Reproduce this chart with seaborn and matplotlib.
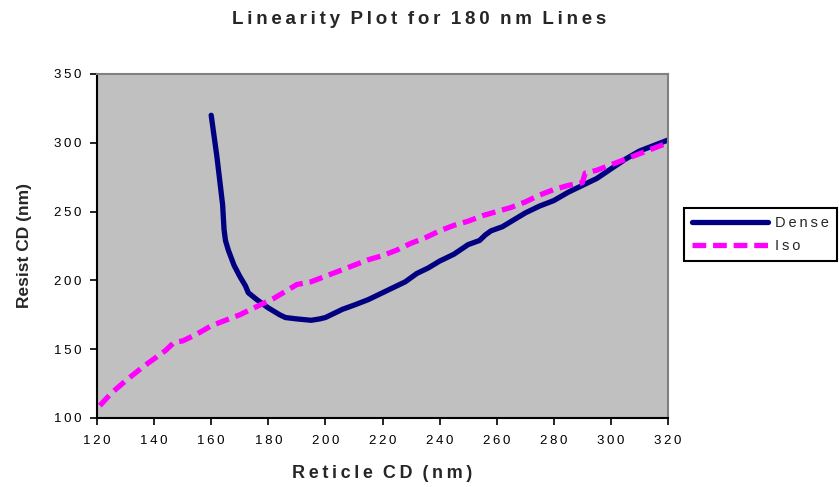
import pandas as pd
import matplotlib
matplotlib.use('Agg')
import matplotlib.pyplot as plt
import seaborn as sns

# Data
dense_x = [160, 162, 164, 164.5, 165, 166, 168, 170, 172, 173, 176, 180, 184, 186, 190, 195,
           198, 200, 203, 206, 210, 215, 220, 225, 228, 232, 236, 240, 245, 250, 254, 256,
           258, 262, 266, 270, 275, 280, 285, 290, 295, 300, 305, 310, 315, 320]
dense_y = [320, 290, 255, 237, 229, 222, 211, 203, 196, 191, 186, 180, 175, 173, 172, 171,
           172, 173, 176, 179, 182, 186, 191, 196, 199, 205, 209, 214, 219, 226, 229, 233,
           236, 239, 244, 249, 254, 258, 264, 269, 274, 281, 288, 294, 298, 302]

iso_x = [121, 125, 130, 136, 140, 144, 147, 150, 155, 160, 165, 170, 177, 182, 186, 190,
         195, 200, 205, 210, 215, 220, 225, 230, 235, 240, 245, 250, 255, 260, 265, 270,
         275, 280, 285, 290, 291, 295, 300, 305, 310, 315, 320]
iso_y = [109, 118, 127, 137, 143, 149, 155, 156, 161, 167, 171, 175, 182, 187, 192, 197,
         199, 203, 207, 211, 215, 218, 222, 227, 231, 236, 240, 243, 247, 250, 253, 257,
         262, 266, 269, 271, 278, 280, 284, 288, 292, 296, 300]

x_ticks = [120, 140, 160, 180, 200, 220, 240, 260, 280, 300, 320]
y_ticks = [100, 150, 200, 250, 300, 350]


def spaced(s):
    # mimic the wide letter spacing of the original
    return '  '.join('\u2009'.join(w) for w in s.split(' '))


dense = pd.DataFrame({'reticle': dense_x, 'resist': dense_y})
iso = pd.DataFrame({'reticle': iso_x, 'resist': iso_y})

sns.set_style('white', {'axes.facecolor': '#C0C0C0'})
plt.rcParams['font.family'] = ['Liberation Sans', 'DejaVu Sans']

fig = plt.figure(figsize=(8.39, 4.87), dpi=100)
ax = fig.add_axes([0.1156, 0.1417, 0.6806, 0.7064])

sns.lineplot(data=dense, x='reticle', y='resist', ax=ax, color='#000080', lw=3.8,
             sort=False, label=spaced('Dense'))
sns.lineplot(data=iso, x='reticle', y='resist', ax=ax, color='#FF00FF', lw=3.8,
             sort=False, label=spaced('Iso'))
ax.lines[1].set_dashes([2.6, 1.3])

ax.set_xlim(120, 320)
ax.set_ylim(100, 350)
ax.set_xticks(x_ticks, [spaced(str(t)) for t in x_ticks])
ax.set_yticks(y_ticks, [spaced(str(t)) for t in y_ticks])
ax.tick_params(axis='both', direction='out', length=5, width=1.2, labelsize=9.5,
               bottom=True, left=True, colors='black')
ax.tick_params(axis='x', pad=7)
ax.tick_params(axis='y', pad=6)

for side in ['left', 'bottom']:
    ax.spines[side].set_color('black')
    ax.spines[side].set_linewidth(1.5)
for side in ['top', 'right']:
    ax.spines[side].set_color('#808080')
    ax.spines[side].set_linewidth(1.5)

ax.set_xlabel(spaced('Reticle CD (nm)'), fontsize=13, fontweight='bold', labelpad=13)
ax.set_ylabel('Resist CD (nm)', fontsize=12.5, fontweight='bold', labelpad=16)
fig.suptitle(spaced('Linearity Plot for 180 nm Lines'),
             x=0.5, y=0.978, fontsize=13.5, fontweight='bold')

leg = ax.legend(loc='center left', bbox_to_anchor=(0.815, 0.518), bbox_transform=fig.transFigure,
                frameon=True, fancybox=False, edgecolor='black', facecolor='white',
                framealpha=1, fontsize=10.5, handlelength=5.2, borderpad=0.55,
                labelspacing=0.6, handletextpad=0.5, borderaxespad=0)
leg.get_frame().set_linewidth(1.5)

fig.savefig('out.png', dpi=100)
plt.close(fig)
